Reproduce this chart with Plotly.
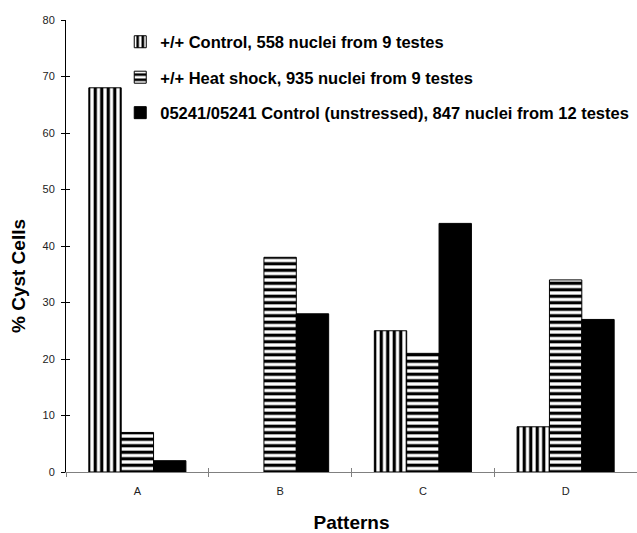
import plotly.graph_objects as go

categories = ["A", "B", "C", "D"]
series_names = [
    "+/+ Control, 558 nuclei from 9 testes",
    "+/+ Heat shock, 935 nuclei from 9 testes",
    "05241/05241 Control (unstressed), 847 nuclei from 12 testes",
]
control = [68, 0, 25, 8]
heat_shock = [7, 38, 21, 34]
mutant = [2, 28, 44, 27]
y_ticks = [0, 10, 20, 30, 40, 50, 60, 70, 80]

patterns = [
    dict(shape="|", size=6.5, solidity=0.5, fgcolor="black", bgcolor="white", fillmode="replace"),
    dict(shape="-", size=6.5, solidity=0.5, fgcolor="black", bgcolor="white", fillmode="replace"),
    dict(shape=""),
]
colors = ["white", "white", "black"]

fig = go.Figure()
for i, (name, vals) in enumerate(zip(series_names, [control, heat_shock, mutant])):
    fig.add_trace(go.Bar(
        x=categories, y=vals, name=name,
        marker=dict(color=colors[i], pattern=patterns[i],
                    line=dict(color="black", width=[1 if v > 0 else 0 for v in vals])),
        legendgroup=f"g{i}",
    ))

# helper overlay axes to draw the inner half of crossing tick marks
fig.add_trace(go.Scatter(x=[None], y=[None], xaxis="x2", yaxis="y2",
                         showlegend=False, hoverinfo="skip"))

fig.update_layout(
    width=637, height=533,
    margin=dict(l=66, r=0, t=20, b=61),
    paper_bgcolor="white", plot_bgcolor="white",
    barmode="group", bargap=0.32, bargroupgap=0,
    font=dict(family="Liberation Sans, Arial, sans-serif", color="black"),
    legend=dict(x=0.095, y=0.99, xanchor="left", yanchor="top",
                font=dict(size=16.5, family="Liberation Sans, Arial, sans-serif", color="black", weight="bold"),
                bgcolor="rgba(0,0,0,0)", tracegroupgap=11, itemwidth=30),
    xaxis=dict(
        title=dict(text="<b>Patterns</b>", font=dict(size=19), standoff=20),
        showline=True, linecolor="#808080", linewidth=1,
        ticks="outside", ticklen=4, tickcolor="#808080", tickson="boundaries",
        ticklabelstandoff=9,
        tickfont=dict(size=11, color="#222"), showgrid=False,
    ),
    yaxis=dict(
        range=[0, 80], tickvals=y_ticks,
        showline=True, linecolor="black", linewidth=1,
        ticks="outside", ticklen=4, tickcolor="black", ticklabelstandoff=4,
        tickfont=dict(size=11, color="#222"), showgrid=False, zeroline=False,
    ),
    xaxis2=dict(overlaying="x", range=[-0.5, 3.5], tickvals=[-0.5, 0.5, 1.5, 2.5, 3.5],
                ticks="inside", ticklen=4, tickcolor="#808080", showticklabels=False,
                showgrid=False, zeroline=False, showline=False, side="bottom"),
    yaxis2=dict(overlaying="y", range=[0, 80], tickvals=y_ticks,
                ticks="inside", ticklen=4, tickcolor="black", showticklabels=False,
                showgrid=False, zeroline=False, showline=False, side="left"),
    annotations=[dict(text="<b>% Cyst Cells</b>", textangle=-90, showarrow=False,
                      xref="paper", yref="paper", x=-0.082, y=0.434,
                      xanchor="center", yanchor="middle", font=dict(size=19, color="black"))],
)

fig.write_html("out.html", config={"displayModeBar": False},
               post_script="document.body.style.margin='0';")
